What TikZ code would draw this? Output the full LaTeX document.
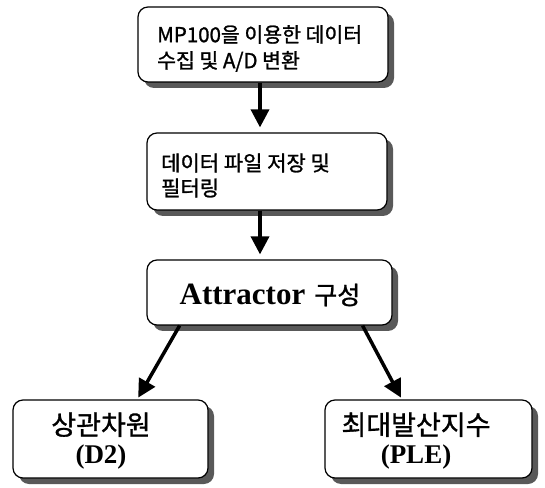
\documentclass[tikz,border=0pt]{standalone}
\usepackage{fontspec}
\setmainfont{Liberation Serif}
\newfontfamily\kr[FakeBold=1.2]{Noto Sans CJK KR}
\usetikzlibrary{arrows.meta,shadows,calc}
\begin{document}
\begin{tikzpicture}[x=1pt,y=1pt,
  box/.style={draw=black, line width=1.2pt, rounded corners=10pt, fill=white,
    drop shadow={shadow xshift=6pt, shadow yshift=-6pt, fill=black!65, opacity=1}},
  arr/.style={line width=3.5pt, -{Triangle[length=18pt,width=18pt]}},
  txt/.style={inner sep=0pt}]
\useasboundingbox (0,0) rectangle (545,487);
% boxes
\node[box, minimum width=250pt, minimum height=75pt] (b1) at (263,442.5) {};
\node[box, minimum width=240pt, minimum height=77pt] (b2) at (267,315.5) {};
\node[box, minimum width=245pt, minimum height=65pt] (b3) at (269.5,194.5) {};
\node[box, minimum width=195pt, minimum height=78pt] (b4) at (110.5,48) {};
\node[box, minimum width=207pt, minimum height=78pt] (b5) at (428.5,48) {};
% texts
\node[txt, anchor=west, align=left, font=\kr\fontsize{20.5pt}{26pt}\selectfont] (t1) at (157,438.5)
  {MP100을 이용한 데이터\\수집 및 A/D 변환};
\node[txt, anchor=west, align=left, font=\kr\fontsize{21pt}{25pt}\selectfont] (t2) at (161,311.5)
  {데이터 파일 저장 및\\필터링};
\node[txt, font=\fontsize{31pt}{36pt}\selectfont] (t3) at (270,192)
  {\bfseries Attractor\hspace{9pt}{\kr\mdseries\fontsize{25pt}{30pt}\selectfont 구성}};
\node[txt, align=center, font=\fontsize{27pt}{29pt}\selectfont] (t4) at (101,46)
  {{\kr 상관차원}\\{\bfseries (D2)}};
\node[txt, align=center, font=\fontsize{27pt}{29pt}\selectfont] (t5) at (416,46)
  {{\kr 최대발산지수}\\{\bfseries (PLE)}};
% connectors
\coordinate (ax) at (260,0);
\draw[arr, shorten >=5pt] (b1.south -| ax) -- (b2.north -| ax);
\draw[arr, shorten >=5pt] (b2.south -| ax) -- (b3.north -| ax);
\draw[arr, shorten >=2pt] ($(b3.south west)!0.135!(b3.south east)$) -- ($(b4.north west)!0.636!(b4.north east)$);
\draw[arr, shorten >=2pt] ($(b3.south west)!0.878!(b3.south east)$) -- ($(b5.north west)!0.372!(b5.north east)$);
\end{tikzpicture}
\end{document}
